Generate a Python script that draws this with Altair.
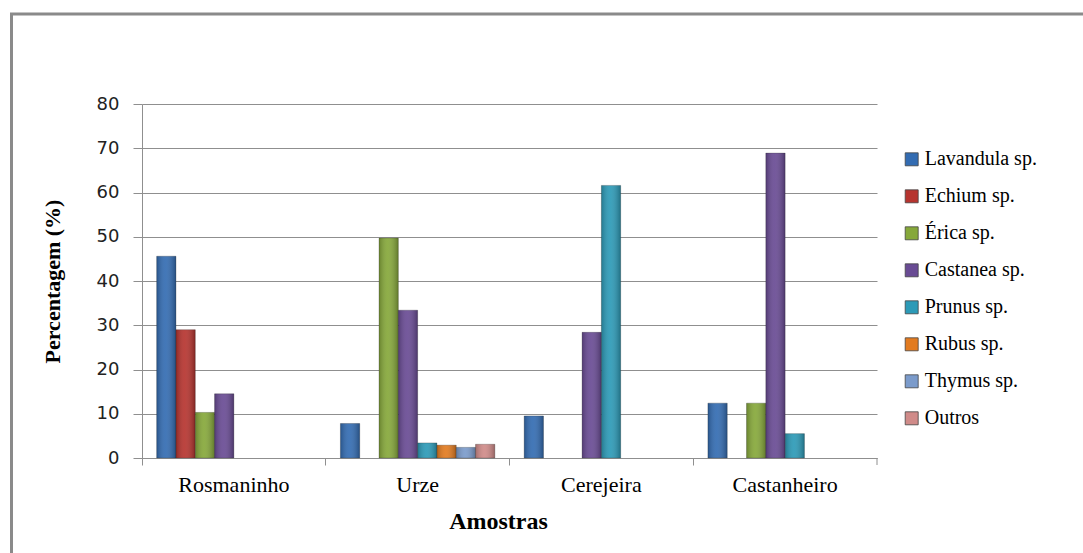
import altair as alt
import pandas as pd

# Samples (x categories) and pollen types (series)
amostras = ["Rosmaninho", "Urze", "Cerejeira", "Castanheiro"]
especies = ["Lavandula sp.", "Echium sp.", "Érica sp.", "Castanea sp.",
            "Prunus sp.", "Rubus sp.", "Thymus sp.", "Outros"]

# Percentage of each pollen type per sample
lavandula = [45.6, 7.8, 9.5, 12.4]
echium = [29.0, 0.0, 0.0, 0.0]
erica = [10.3, 49.7, 0.0, 12.4]
castanea = [14.5, 33.4, 28.4, 68.9]
prunus = [0.0, 3.4, 61.6, 5.5]
rubus = [0.0, 2.9, 0.0, 0.0]
thymus = [0.0, 2.4, 0.0, 0.0]
outros = [0.0, 3.1, 0.0, 0.0]

cores = ["#336CB2", "#B6342F", "#86A83A", "#694B94",
         "#2C9AB7", "#E27B20", "#7B9BCB", "#D08B89"]

series = [lavandula, echium, erica, castanea, prunus, rubus, thymus, outros]
rows = []
for nome, valores in zip(especies, series):
    for amostra, v in zip(amostras, valores):
        if v > 0:
            rows.append({"amostra": amostra, "especie": nome, "valor": v})
df = pd.DataFrame(rows)

W, H = 735, 354
SERIF = "Liberation Serif"
SANS = "DejaVu Sans"
GRID = "#8f8f8f"

x_enc = alt.X(
    "amostra:N", sort=amostras,
    scale=alt.Scale(paddingInner=0, paddingOuter=0),
    axis=alt.Axis(title="Amostras", labelAngle=0, bandPosition=0, grid=False,
                  tickSize=7, tickColor=GRID, domainColor=GRID,
                  labelFont=SERIF, labelFontSize=22, labelColor="#000000",
                  labelPadding=9, titleFont=SERIF, titleFontSize=24,
                  titleFontWeight="bold", titleColor="#000000", titlePadding=14,
                  titleX=356),
)
y_enc = alt.Y(
    "valor:Q",
    scale=alt.Scale(domain=[0, 80], nice=False),
    axis=alt.Axis(title="Percentagem (%)", values=list(range(0, 81, 10)),
                  grid=True, gridColor=GRID, tickSize=9, tickColor=GRID,
                  domainColor=GRID, labelFont=SANS, labelFontSize=18,
                  labelColor="#222222", labelPadding=14, titleFont=SERIF,
                  titleFontSize=22, titleFontWeight="bold", titleColor="#000000",
                  titlePadding=32),
)
off_enc = alt.XOffset("especie:N", sort=especies,
                      scale=alt.Scale(domain=especies, paddingInner=0, paddingOuter=0.76))

bars = alt.Chart(df).mark_bar(stroke="#2a2a2a", strokeOpacity=0.35, strokeWidth=0.8).encode(
    x=x_enc, y=y_enc, xOffset=off_enc,
    color=alt.Color("especie:N", sort=especies,
                    scale=alt.Scale(domain=especies, range=cores),
                    legend=alt.Legend(title=None)),
)

# soft cylindrical shading over each bar
shade = alt.Chart(df).mark_bar().encode(
    x=alt.X("amostra:N", sort=amostras), y="valor:Q",
    xOffset=alt.XOffset("especie:N", sort=especies),
    color=alt.value({
        "gradient": "linear", "x1": 0, "x2": 1, "y1": 0, "y2": 0,
        "stops": [
            {"offset": 0, "color": "rgba(0,0,0,0.22)"},
            {"offset": 0.45, "color": "rgba(255,255,255,0.08)"},
            {"offset": 1, "color": "rgba(0,0,0,0.28)"},
        ],
    }),
)

# closing tick at the right end of the category axis
end_tick = alt.Chart(pd.DataFrame({"a": [0]})).mark_rule(color=GRID).encode(
    x=alt.value(W), y=alt.value(H), y2=alt.value(H + 7)
)

# outer frame around the chart
frame = alt.Chart(pd.DataFrame({"a": [0]})).mark_rect(
    fillOpacity=0, stroke="#8a8a8a", strokeWidth=3
).encode(
    x=alt.value(-130.5), x2=alt.value(960), y=alt.value(-90), y2=alt.value(470)
)

chart = alt.layer(frame, bars, shade, end_tick).properties(
    width=W, height=H,
    autosize=alt.AutoSizeParams(type="none"),
    padding={"left": 142, "top": 104, "right": 206, "bottom": 95},
    background="#ffffff",
).configure_view(stroke=None).configure_legend(
    orient="none", legendX=759.7, legendY=45.3, padding=0,
    symbolType="square", symbolSize=169, symbolStrokeWidth=0.8,
    symbolStrokeColor="#444444",
    labelFont=SERIF, labelFontSize=20, labelColor="#000000",
    labelOffset=3, rowPadding=17,
).resolve_scale(color="independent")

chart.save("out.html", embed_options={"renderer": "svg", "actions": False})
